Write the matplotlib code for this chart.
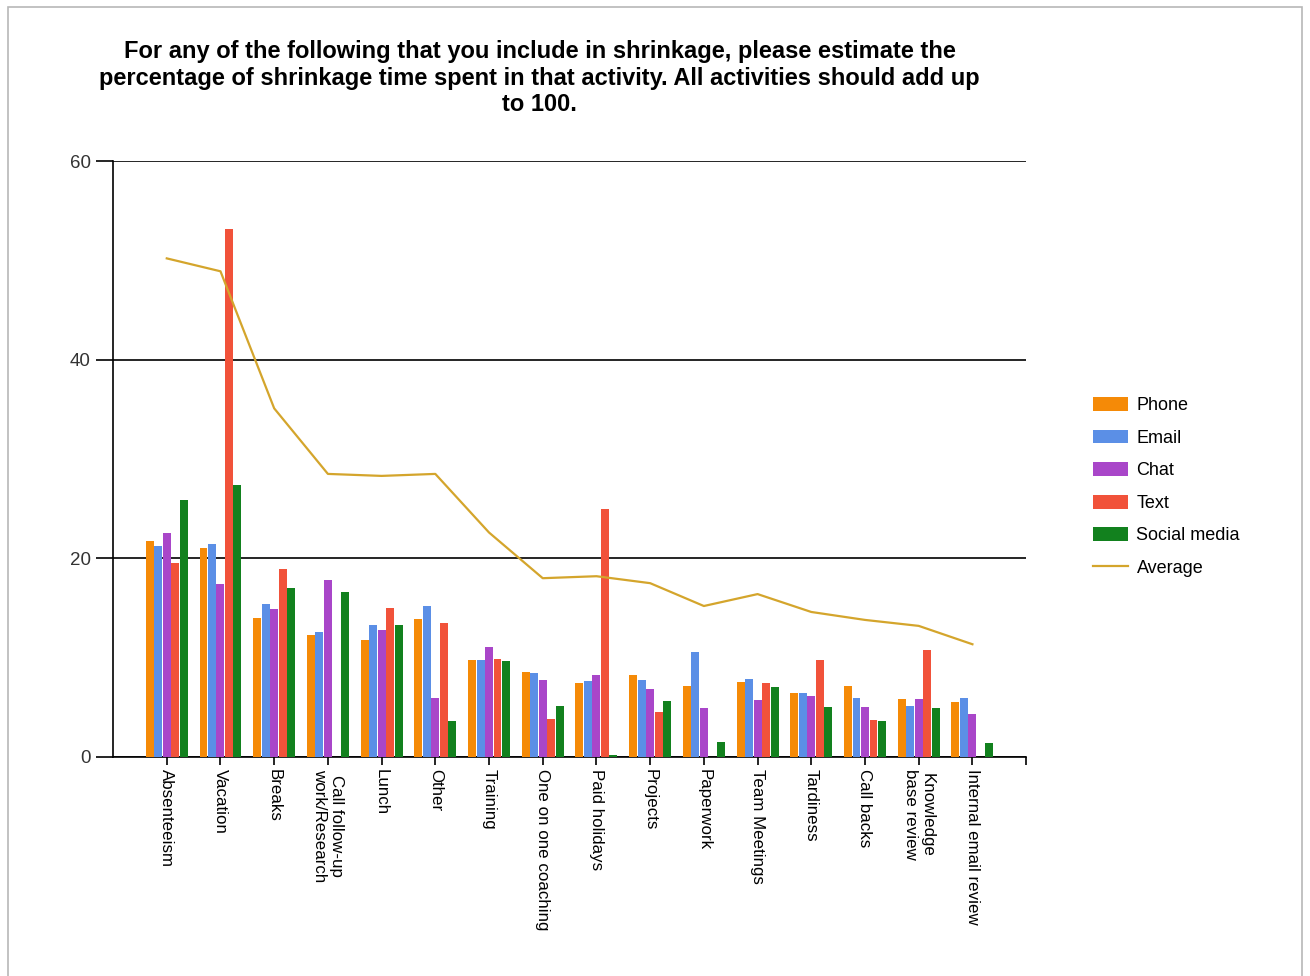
import numpy as np
import matplotlib
matplotlib.use('Agg')
import matplotlib.pyplot as plt
from matplotlib.patches import Rectangle

plt.rcParams['font.family'] = ['Liberation Sans', 'DejaVu Sans']

categories = ['Absenteeism', 'Vacation', 'Breaks', 'Call follow-up\nwork/Research', 'Lunch',
              'Other', 'Training', 'One on one coaching', 'Paid holidays', 'Projects',
              'Paperwork', 'Team Meetings', 'Tardiness', 'Call backs', 'Knowledge\nbase review',
              'Internal email review']

phone = [21.7, 21.0, 14.0, 12.3, 11.8, 13.9, 9.75, 8.6, 7.4, 8.3, 7.1, 7.5, 6.4, 7.1, 5.8, 5.5]
email = [21.2, 21.4, 15.4, 12.6, 13.3, 15.2, 9.75, 8.5, 7.6, 7.8, 10.6, 7.9, 6.4, 5.9, 5.1, 5.9]
chat = [22.6, 17.4, 14.9, 17.8, 12.8, 5.9, 11.1, 7.8, 8.3, 6.8, 4.9, 5.7, 6.1, 5.05, 5.8, 4.3]
text = [19.5, 53.2, 18.9, 0, 15.0, 13.5, 9.9, 3.8, 25.0, 4.5, 0, 7.4, 9.8, 3.7, 10.8, 0]
social = [25.9, 27.4, 17.0, 16.6, 13.3, 3.65, 9.7, 5.1, 0.17, 5.65, 1.5, 7.0, 5.05, 3.6, 4.9, 1.45]
average = [50.2, 48.9, 35.1, 28.5, 28.3, 28.5, 22.6, 18.0, 18.2, 17.5, 15.2, 16.4, 14.6, 13.8, 13.2, 11.35]

series = ['Phone', 'Email', 'Chat', 'Text', 'Social media']
colors = ['#F58A07', '#5B8FE6', '#A946C9', '#F1523A', '#12811E']
line_color = '#D4A52C'

fig = plt.figure(figsize=(13.1, 9.76), dpi=100)
fig.patches.append(Rectangle((0.006, -0.01), 0.988, 1.003, transform=fig.transFigure,
                             fill=False, edgecolor='#B8B8B8', linewidth=1.2))

ax = fig.add_axes([0.0863, 0.2244, 0.6970, 0.6106])

x = np.arange(1, len(categories) + 1)
step = 0.158
w = 0.148
handles = []
for i, (vals, c, name) in enumerate(zip([phone, email, chat, text, social], colors, series)):
    b = ax.bar(x + (i - 2) * step, vals, width=w, color=c, label=name, zorder=3)
    handles.append(b)

ln, = ax.plot(x, average, color=line_color, linewidth=1.6, label='Average', zorder=4)
handles.append(ln)

ax.set_xlim(0, 17)
ax.set_ylim(0, 60)
ax.set_yticks([0, 20, 40, 60])
ax.yaxis.grid(True, color='black', linewidth=1.2, zorder=1)
ax.set_axisbelow(True)
for s in ['top', 'right']:
    ax.spines[s].set_visible(False)
ax.spines['left'].set_linewidth(1.2)
ax.spines['bottom'].set_linewidth(1.2)
ax.set_xticks(list(x) + [17])
ax.set_xticklabels(categories + [''], rotation=-90, ha='center', va='top', fontsize=12.2)
ax.tick_params(axis='x', length=6, width=1.2, pad=3)
ax.tick_params(axis='y', length=12, width=1.2, labelsize=13.5, labelcolor='#333333', pad=4)

fig.text(0.412, 0.959, 'For any of the following that you include in shrinkage, please estimate the\n'
         'percentage of shrinkage time spent in that activity. All activities should add up\nto 100.',
         ha='center', va='top', fontsize=17, fontweight='bold', linespacing=1.2)

ax.legend(handles=handles, labels=series + ['Average'], loc='center left',
          bbox_to_anchor=(1.0556, 0.453), frameon=False, fontsize=13,
          handlelength=1.95, handleheight=0.8, labelspacing=0.85, handletextpad=0.45)

fig.savefig('out.png', dpi=100)
